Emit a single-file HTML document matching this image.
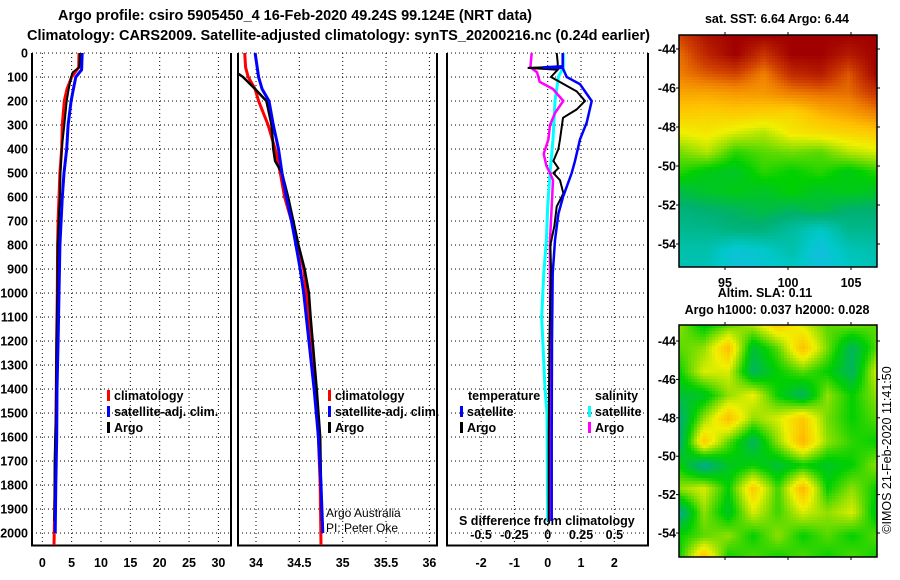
<!DOCTYPE html>
<html><head><meta charset="utf-8"><style>
html,body{margin:0;padding:0;background:#fff;}
svg{display:block;font-family:"Liberation Sans",sans-serif;}
.b{font-weight:bold;}
</style></head><body>
<svg id="svg" width="900" height="580" viewBox="0 0 900 580" xmlns="http://www.w3.org/2000/svg">
<text class="b" x="58" y="20" font-size="14.5" textLength="474" lengthAdjust="spacingAndGlyphs">Argo profile: csiro 5905450_4 16-Feb-2020 49.24S 99.124E (NRT data)</text>
<text class="b" x="27" y="40" font-size="14.5" textLength="623" lengthAdjust="spacingAndGlyphs">Climatology: CARS2009. Satellite-adjusted climatology: synTS_20200216.nc (0.24d earlier)</text>
<text class="b" x="777" y="23" font-size="12.5" text-anchor="middle">sat. SST: 6.64 Argo: 6.44</text>
<text class="b" x="765" y="297" font-size="12.5" text-anchor="middle">Altim. SLA: 0.11</text>
<text class="b" x="777" y="314" font-size="12.5" text-anchor="middle">Argo h1000: 0.037 h2000: 0.028</text>
<text x="891" y="450" font-size="12.5" text-anchor="middle" transform="rotate(-90 891 450)">©IMOS 21-Feb-2020 11:41:50</text>
<text x="326" y="517" font-size="12">Argo Australia</text>
<text x="326" y="532" font-size="12">PI: Peter Oke</text>
<text class="b" x="459" y="525" font-size="12.5">S difference from climatology</text>
</svg>
<script>
// ---- profile data ----
const depthTicks = [0,100,200,300,400,500,600,700,800,900,1000,1100,1200,1300,1400,1500,1600,1700,1800,1900,2000];
const tTicks = [0,5,10,15,20,25,30];
const sTicks = [34,34.5,35,35.5,36];
const sTickLabels = ["34","34.5","35","35.5","36"];
const dTicks = [-2,-1,0,1,2];
const dsTicks = [-0.5,-0.25,0,0.25,0.5];
const dsTickLabels = ["-0.5","-0.25","0","0.25","0.5"];

const tClimDepth = [0,60,100,150,200,300,400,500,600,700,800,1000,1200,1500,1800,2050];
const tClimVal  = [6.25,6.2,5.0,4.2,3.75,3.4,3.3,3.0,2.85,2.7,2.6,2.55,2.45,2.35,2.2,2.0];
const tSatDepth = [0,70,100,150,200,300,400,500,600,700,800,1000,1200,1400,1600,1800,2000];
const tSatVal   = [6.8,6.7,5.7,5.3,4.9,4.4,4.15,3.7,3.4,3.2,3.0,2.85,2.7,2.5,2.45,2.3,2.2];
const tArgoDepth= [0,60,80,100,150,200,300,400,500,600,700,800,1000,1200,1500,1700,1950];
const tArgoVal  = [6.4,6.3,5.2,4.9,4.5,4.15,3.75,3.3,3.1,3.0,2.8,2.6,2.55,2.4,2.3,2.1,2.05];

const sClimDepth = [0,60,100,150,200,300,400,500,600,700,800,900,1000,1100,1400,1600,1800,2050];
const sClimVal   = [33.87,33.88,33.91,33.99,34.03,34.14,34.22,34.28,34.33,34.41,34.48,34.55,34.58,34.61,34.69,34.72,34.74,34.75];
const sSatDepth  = [0,100,150,200,300,400,500,600,700,800,900,1000,1100,1400,1600,1800,2000];
const sSatVal    = [33.99,34.03,34.07,34.15,34.2,34.26,34.3,34.35,34.41,34.46,34.51,34.55,34.58,34.67,34.72,34.75,34.77];
const sArgoDepth = [85,100,150,200,300,400,450,500,600,700,800,900,1000,1100,1400,1600,1800,1950];
const sArgoVal   = [33.79,33.85,33.99,34.12,34.18,34.2,34.22,34.3,34.37,34.43,34.49,34.56,34.61,34.63,34.7,34.74,34.75,34.76];

const dTSatDepth = [0,55,60,62,100,130,200,290,360,450,500,600,670,780,920,1200,1600,1950];
const dTSatVal   = [0.45,0.45,-0.15,0.45,0.57,0.97,1.32,1.17,0.97,0.82,0.72,0.46,0.32,0.22,0.15,0.13,0.12,0.12];
const dTArgoDepth= [0,40,58,62,70,100,160,200,235,270,360,400,450,480,500,530,585,640,720,800,900,1200,1600,1950];
const dTArgoVal  = [0.27,0.3,0.3,-0.6,0.3,0.1,0.87,1.12,0.87,0.46,0.37,0.32,0.17,0.32,0.17,0.37,0.47,0.27,0.2,0.08,0.1,0.05,0.03,0.03];
const dSSatDepth = [0,60,100,200,360,500,640,780,920,1100,1400,1500,1950];
const dSSatVal   = [0.117,0.117,0.08,0.055,0.04,0.017,0.0,-0.01,-0.03,-0.045,-0.02,-0.005,0.0];
const dSArgoDepth= [0,60,80,120,150,200,250,300,360,420,470,500,530,640,780,920,1300,1700,1950];
const dSArgoVal  = [-0.12,-0.13,-0.08,-0.06,0.04,0.117,0.055,0.017,0.005,-0.03,-0.01,0.017,0.04,0.03,0.017,0.017,0.02,0.02,0.02];

// ---- map data (color index 0..1) ----
const sstGrid = [
 [0.88,0.97,1,1,1,1,1,1],
 [0.82,0.93,1,0.9,1,1,0.95,1],
 [0.8,0.85,0.88,0.8,0.92,0.95,0.85,1],
 [0.74,0.74,0.76,0.76,0.8,0.82,0.82,0.9],
 [0.68,0.67,0.68,0.67,0.66,0.72,0.75,0.8],
 [0.6,0.62,0.58,0.55,0.62,0.64,0.66,0.68],
 [0.5,0.55,0.45,0.48,0.5,0.48,0.55,0.58],
 [0.45,0.4,0.38,0.45,0.42,0.45,0.4,0.45],
 [0.35,0.38,0.4,0.38,0.42,0.38,0.4,0.38],
 [0.28,0.3,0.32,0.35,0.32,0.35,0.3,0.3],
 [0.25,0.25,0.28,0.28,0.22,0.15,0.25,0.25],
 [0.2,0.2,0.12,0.15,0.2,0.1,0.18,0.2],
 [0.18,0.18,0.1,0.12,0.15,0.1,0.15,0.18]
];
const slaGrid = [
 [.52,.4,.48,.55,.68,.58,.48,.5,.48],
 [.48,.52,.7,.36,.48,.7,.5,.32,.48],
 [.42,.58,.58,.32,.42,.48,.42,.32,.58],
 [.36,.38,.52,.6,.42,.32,.52,.42,.52],
 [.28,.52,.7,.52,.58,.68,.5,.42,.48],
 [.28,.68,.48,.32,.52,.72,.52,.45,.42],
 [.42,.26,.38,.42,.36,.42,.38,.42,.52],
 [.52,.58,.42,.68,.46,.72,.42,.52,.42],
 [.26,.52,.38,.58,.46,.58,.52,.58,.38],
 [.42,.48,.52,.42,.52,.42,.48,.42,.48],
 [.42,.72,.42,.48,.42,.48,.42,.48,.42]
];
const latTicks = [-44,-46,-48,-50,-52,-54];
const lonTicks = [95,100,105];

const NS = "http://www.w3.org/2000/svg";
const svg = document.getElementById('svg');
function mk(tag, attrs, parent){ const e=document.createElementNS(NS,tag); for(const k in attrs) e.setAttribute(k,attrs[k]); (parent||svg).appendChild(e); return e; }

const Y0=53, YS=0.24, YB=545.5;
const yD = d => Y0 + d*YS;
const panels = [
  {name:'temperature', x0:32, x1:231, fx:v=>42.3+v*5.87},
  {name:'salinity', x0:238, x1:437, fx:v=>256+(v-34)*86.7},
  {name:'difference', x0:447, x1:648, fx:v=>547.7+v*33.3}
];
const fxS = v => 547.7 + v*133.3;

panels.forEach((p,pi)=>{
  const g = mk('g',{});
  
  
  depthTicks.forEach(d=>{
    const l = mk('line',{x1:p.x0,x2:p.x1,y1:yD(d),y2:yD(d),stroke:'#000','stroke-width':1,'stroke-dasharray':'1 3'},g);
    
    
  });
  const xt = pi===0?tTicks:(pi===1?sTicks:dTicks);
  xt.forEach((v,i)=>{
    const x = p.fx(v);
    const l = mk('line',{x1:x,x2:x,y1:Y0,y2:YB,stroke:'#000','stroke-width':1,'stroke-dasharray':'1 3'},g);
    
    
    const t = mk('text',{x:x,y:567,'font-size':12.5,'text-anchor':'middle','class':'b'},g);
    t.textContent = pi===1?sTickLabels[i]:String(v);
    
    
  });
  const fr = mk('path',{d:`M${p.x0},${Y0}V${YB}H${p.x1}V${Y0}`,fill:'none',stroke:'#000','stroke-width':2},g);
  
  
});
depthTicks.forEach(d=>{
  const t = mk('text',{x:28,y:yD(d)+4.5,'font-size':12.5,'text-anchor':'end','class':'b'});
  t.textContent = String(d);
  
  
});
dsTicks.forEach((v,i)=>{
  const t = mk('text',{x:fxS(v),y:539,'font-size':12.5,'text-anchor':'middle','class':'b'});
  t.textContent = dsTickLabels[i];
  
  
});

function series(depths, vals, fx, color, w, name){
  const pts = depths.map((d,i)=>fx(vals[i]).toFixed(1)+','+yD(d).toFixed(1)).join(' ');
  const e = mk('polyline',{points:pts,fill:'none',stroke:color,'stroke-width':w,'stroke-linejoin':'miter'});
  
  
}
const fT=panels[0].fx, fSal=panels[1].fx, fD=panels[2].fx;
series(tClimDepth,tClimVal,fT,'#f00',3,'temperature-climatology-line');
series(tArgoDepth,tArgoVal,fT,'#000',2,'temperature-argo-line');
series(tSatDepth,tSatVal,fT,'#00f',3,'temperature-satellite-line');
series(sClimDepth,sClimVal,fSal,'#f00',3,'salinity-climatology-line');
series(sArgoDepth,sArgoVal,fSal,'#000',2.5,'salinity-argo-line');
series(sSatDepth,sSatVal,fSal,'#00f',3,'salinity-satellite-line');
series(dSSatDepth,dSSatVal,fxS,'#0ff',3,'salinity-diff-satellite-line');
series(dSArgoDepth,dSArgoVal,fxS,'#f0f',2.5,'salinity-diff-argo-line');
series(dTArgoDepth,dTArgoVal,fD,'#000',2,'temperature-diff-argo-line');
series(dTSatDepth,dTSatVal,fD,'#00f',2.5,'temperature-diff-satellite-line');

function legend(x, y, color, label, name){
  const r = mk('rect',{x:x,y:y-10,width:3,height:11,fill:color});
  
  
  const t = mk('text',{x:x+7,y:y,'font-size':12.5,'class':'b'});
  t.textContent = label;
  
  
}
legend(107,400,'#f00','climatology','legend-temp-climatology');
legend(107,416,'#00f','satellite-adj. clim.','legend-temp-satellite');
legend(107,432,'#000','Argo','legend-temp-argo');
legend(328,400,'#f00','climatology','legend-sal-climatology');
legend(328,416,'#00f','satellite-adj. clim.','legend-sal-satellite');
legend(328,432,'#000','Argo','legend-sal-argo');
{const t=mk('text',{x:468,y:400,'font-size':12.5,'class':'b'}); t.textContent='temperature';

}
{const t=mk('text',{x:595,y:400,'font-size':12.5,'class':'b'}); t.textContent='salinity';

}
legend(460,416,'#00f','satellite','legend-dtemp-satellite');
legend(460,432,'#000','Argo','legend-dtemp-argo');
legend(588,416,'#0ff','satellite','legend-dsal-satellite');
legend(588,432,'#f0f','Argo','legend-dsal-argo');

// ---- maps ----
const stops = [[0,[48,176,255]],[0.15,[0,200,200]],[0.3,[0,176,112]],[0.42,[0,208,0]],[0.52,[144,224,0]],[0.6,[240,240,0]],[0.7,[255,192,0]],[0.8,[240,128,0]],[0.88,[208,64,0]],[1,[160,0,0]]];
function cmap(v){
  v=Math.max(0,Math.min(1,v));
  for(let i=1;i<stops.length;i++){ if(v<=stops[i][0]){ const a=stops[i-1],b=stops[i],t=(v-a[0])/(b[0]-a[0]);
    return 'rgb('+a[1].map((c,k)=>Math.round(c+(b[1][k]-c)*t)).join(',')+')'; } }
  return 'rgb(160,0,0)';
}
function bilinear(grid, u, v){
  const R=grid.length-1, C=grid[0].length-1;
  const fy=v*R, fx=u*C, i=Math.min(R-1,Math.floor(fy)), j=Math.min(C-1,Math.floor(fx));
  const ty=fy-i, tx=fx-j;
  return grid[i][j]*(1-tx)*(1-ty)+grid[i][j+1]*tx*(1-ty)+grid[i+1][j]*(1-tx)*ty+grid[i+1][j+1]*tx*ty;
}
function drawMap(grid, x0, y0, w, h, name, latY0, latY1, showLon){
  const g = mk('g',{});
  
  
  const cs=3, nx=Math.ceil(w/cs), ny=Math.ceil(h/cs);
  for(let a=0;a<ny;a++) for(let b=0;b<nx;b++){
    const val = bilinear(grid,(b+0.5)/nx,(a+0.5)/ny);
    mk('rect',{x:x0+b*cs,y:y0+a*cs,width:Math.min(cs,x0+w-(x0+b*cs)),height:Math.min(cs,y0+h-(y0+a*cs)),fill:cmap(val)},g);
  }
  const f = mk('rect',{x:x0,y:y0,width:w,height:h,fill:'none',stroke:'#000','stroke-width':1.5},g);
  
  
  latTicks.forEach(lt=>{
    const y = latY0 + (lt+44)/(-10)*(latY1-latY0);
    mk('line',{x1:x0-3,x2:x0,y1:y,y2:y,stroke:'#000'},g);
    mk('line',{x1:x0+w,x2:x0+w+3,y1:y,y2:y,stroke:'#000'},g);
    const t = mk('text',{x:x0-3,y:y+4.5,'font-size':12.5,'text-anchor':'end','class':'b'},g);
    t.textContent = String(lt);
    
    
  });
  lonTicks.forEach(ln=>{
    const x = 725 + (ln-95)*12.6;
    mk('line',{x1:x,x2:x,y1:y0-3,y2:y0,stroke:'#000'},g);
    mk('line',{x1:x,x2:x,y1:y0+h,y2:y0+h+3,stroke:'#000'},g);
    if(showLon){
      const t = mk('text',{x:x,y:y0+h+20,'font-size':12.5,'text-anchor':'middle','class':'b'},g);
      t.textContent = String(ln);
      
      
    }
  });
}
drawMap(sstGrid,679,35,198,232,'sst-map',49,244,true);
drawMap(slaGrid,679,325,198,232,'sla-map',341,533,false);
</script>
</body></html>
